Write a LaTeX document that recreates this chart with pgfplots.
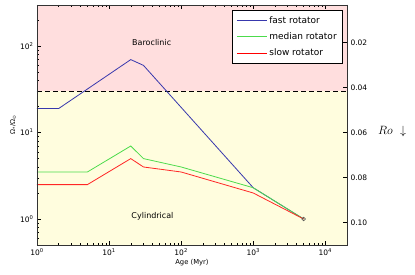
\documentclass[border=0pt]{standalone}
\usepackage{pgfplots}
\pgfplotsset{compat=1.18}
\usepackage{fontspec}
\setmainfont{DejaVu Sans}
\definecolor{fastc}{rgb}{0.22,0.22,0.68}
\definecolor{medc}{rgb}{0.30,0.86,0.30}
\definecolor{slowc}{rgb}{1.0,0.15,0.15}
\definecolor{pinkbg}{HTML}{FFDEDE}
\definecolor{yellowbg}{HTML}{FFFDDE}
\begin{document}
\begin{tikzpicture}
\begin{axis}[
  name=ax,
  scale only axis, width=310pt, height=240pt,
  xmode=log, ymode=log,
  xmin=1, xmax=20000, ymin=0.5, ymax=300,
  xtick={1,10,100,1000,10000},
  xticklabels={10\textsuperscript{0},10\textsuperscript{1},10\textsuperscript{2},10\textsuperscript{3},10\textsuperscript{4}},
  minor xtick={2,3,4,5,6,7,8,9,20,30,40,50,60,70,80,90,200,300,400,500,600,700,800,900,2000,3000,4000,5000,6000,7000,8000,9000,20000},
  ytick={1,10,100},
  yticklabels={10\textsuperscript{0},10\textsuperscript{1},10\textsuperscript{2}},
  minor ytick={0.6,0.7,0.8,0.9,2,3,4,5,6,7,8,9,20,30,40,50,60,70,80,90,200,300},
  xtick pos=both, ytick pos=left,
  tick align=inside,
  major tick length=4pt, minor tick length=2pt,
  tick style={black, line width=0.5pt},
  tick label style={font=\fontsize{7.5}{9}\selectfont},
  xlabel={Age (Myr)},
  xlabel style={font=\fontsize{6.8}{8}\selectfont, yshift=3pt},
  ylabel={Ω\textsubscript{*}/Ω\textsubscript{⊙}},
  ylabel style={font=\fontsize{6.5}{8}\selectfont, yshift=-3pt},
  axis line style={black!80, line width=0.6pt},
  axis on top,
  legend style={at={(1,1)}, anchor=north east, xshift=-4pt, yshift=-5pt,
    draw=black, line width=0.6pt, fill=white,
    font=\fontsize{9}{11}\selectfont, row sep=4pt, inner xsep=4pt, inner ysep=4pt,
    cells={anchor=west}},
  legend image code/.code={\draw[#1] (0pt,0pt) -- (15pt,0pt); \path (-3pt,0pt) -- (27pt,0pt);},
]
\addlegendimage{draw=fastc, line width=1pt}
\addlegendentry{fast rotator}
\addlegendimage{draw=medc, line width=1pt}
\addlegendentry{median rotator}
\addlegendimage{draw=red, line width=1pt}
\addlegendentry{slow rotator}
\addplot[fill=pinkbg, draw=none, forget plot] coordinates {(1,30) (20000,30) (20000,300) (1,300)} -- cycle;
\addplot[fill=yellowbg, draw=none, forget plot] coordinates {(1,0.5) (20000,0.5) (20000,30) (1,30)} -- cycle;
\addplot[black, line width=1.3pt, dash pattern=on 5pt off 3pt, forget plot] coordinates {(1,30) (20000,30)};
\addplot[draw=fastc, line width=0.8pt, forget plot] coordinates {(1,19) (2,19) (20,70) (30,60) (1000,2.3) (5000,1)};
\addplot[draw=medc, line width=0.8pt, forget plot] coordinates {(1,3.5) (5,3.5) (20,7) (30,5) (100,4) (1000,2.3) (5000,1)};
\addplot[draw=slowc, line width=0.8pt, forget plot] coordinates {(1,2.5) (5,2.5) (20,5) (30,4) (100,3.5) (1000,2.0) (5000,1)};
\addplot[only marks, mark=o, mark size=1.8pt, black!70, line width=0.5pt, forget plot] coordinates {(5000,1)};
\node[font=\fontsize{8}{10}\selectfont] at (axis cs:39,110) {Baroclinic};
\node[font=\fontsize{8}{10}\selectfont] at (axis cs:40,1.07) {Cylindrical};
\end{axis}
\begin{axis}[
  scale only axis, width=310pt, height=240pt,
  xmode=log, xmin=1, xmax=20000,
  axis x line=none, axis y line*=right,
  ymin=0.0032, ymax=0.110, y dir=reverse,
  ytick={0.02,0.04,0.06,0.08,0.10},
  yticklabels={0.02,0.04,0.06,0.08,0.10},
  tick align=inside,
  major tick length=4pt,
  tick style={black, line width=0.5pt},
  tick label style={font=\fontsize{7.5}{9}\selectfont},
  axis line style={black!80, line width=0.6pt},
]
\addplot[draw=none, forget plot] coordinates {(1,0.05)};
\end{axis}
\node[anchor=west, font=\fontsize{12.5}{14}\selectfont, inner sep=0pt] at (ax.east) [xshift=31pt, yshift=-7pt] {$Ro\ \downarrow$};
\pgfresetboundingbox
\path (-37pt,-30pt) rectangle (378pt,245pt);
\end{tikzpicture}
\end{document}
